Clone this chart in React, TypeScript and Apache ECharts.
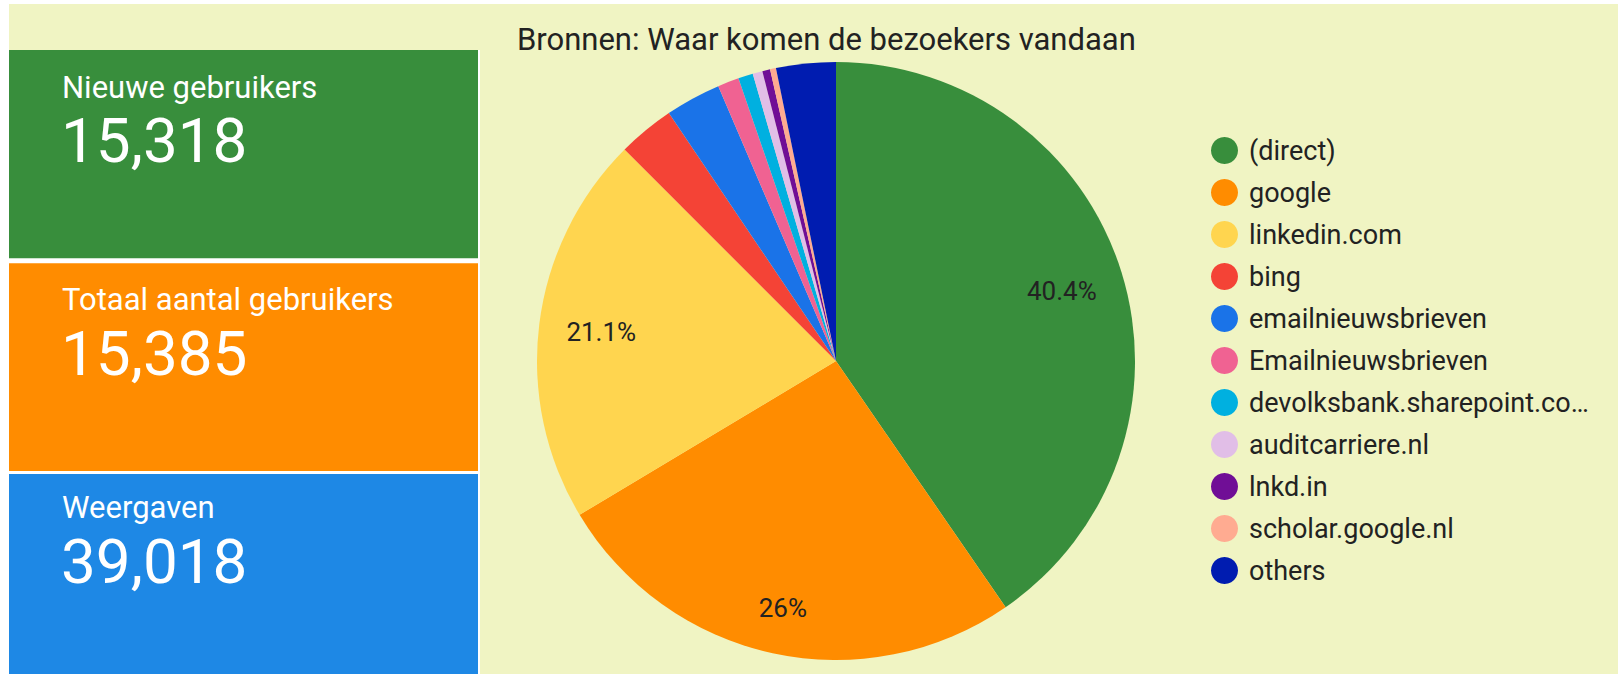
import React, { useEffect, useRef } from 'react';
import * as echarts from 'echarts';

const chartTitle = 'Bronnen: Waar komen de bezoekers vandaan';
const sources = [
  '(direct)',
  'google',
  'linkedin.com',
  'bing',
  'emailnieuwsbrieven',
  'Emailnieuwsbrieven',
  'devolksbank.sharepoint.co…',
  'auditcarriere.nl',
  'lnkd.in',
  'scholar.google.nl',
  'others',
];
const sharePct = [40.4, 26.0, 21.1, 3.06, 3.0, 1.15, 0.8, 0.53, 0.42, 0.32, 3.22];
const sliceColors = [
  '#388E3C', '#FF8C00', '#FFD54F', '#F44336', '#1A73E8', '#F06292',
  '#00B0E0', '#E1BEE7', '#700E96', '#FFAB91', '#001CB0',
];

const kpiLabels = ['Nieuwe gebruikers', 'Totaal aantal gebruikers', 'Weergaven'];
const kpiValues = [15318, 15385, 39018];
const kpiColors = ['#388E3C', '#FF8C00', '#1E88E5'];

const FONT = 'Roboto, "Noto Sans", sans-serif';

export default function App() {
  const ref = useRef<HTMLDivElement>(null);

  useEffect(() => {
    if (!ref.current) return;
    const chart = echarts.init(ref.current, undefined, { renderer: 'svg' });
    const total = sharePct.reduce((a, b) => a + b, 0);

    // card layout (top, bottom)
    const cardBoxes = [
      [50, 258.3],
      [263.3, 471],
      [474, 674],
    ];
    const labelBase = [98, 310, 517.7];
    const numBase = [162, 375, 583];

    const graphics: any[] = [
      { type: 'rect', shape: { x: 9, y: 4, width: 1609, height: 670 }, style: { fill: '#F0F4C3' }, z: -10 },
      { type: 'rect', shape: { x: 9, y: 50, width: 471, height: 624 }, style: { fill: '#ffffff' }, z: -9 },
    ];
    kpiLabels.forEach((lab, i) => {
      const [t, b] = cardBoxes[i];
      graphics.push({
        type: 'rect',
        shape: { x: 9, y: t, width: 469, height: b - t },
        style: { fill: kpiColors[i] },
        z: -8,
      });
      graphics.push({
        type: 'text',
        x: 62,
        y: labelBase[i] - 0.342 * 31,
        style: {
          text: lab,
          fill: '#ffffff',
          font: `400 31px ${FONT}`,
          textAlign: 'left',
          textVerticalAlign: 'middle',
        },
        z: -7,
      });
      graphics.push({
        type: 'text',
        x: 61,
        y: numBase[i] - 0.342 * 62,
        style: {
          text: kpiValues[i].toLocaleString('en-US'),
          fill: '#ffffff',
          font: `400 62px ${FONT}`,
          textAlign: 'left',
          textVerticalAlign: 'middle',
        },
        z: -7,
      });
    });

    const pieData = sources.map((name, i) => ({
      name,
      value: sharePct[i],
      itemStyle: { color: sliceColors[i] },
    }));

    chart.setOption({
      animation: false,
      backgroundColor: '#ffffff',
      title: {
        text: chartTitle,
        left: 517,
        top: 24,
        padding: 0,
        textStyle: {
          fontFamily: FONT,
          fontSize: 31,
          fontWeight: 'normal',
          color: '#222222',
          lineHeight: 31,
        },
      },
      legend: {
        orient: 'vertical',
        left: 1211,
        top: 137,
        padding: 0,
        itemWidth: 27,
        itemHeight: 27,
        itemGap: 15,
        icon: 'circle',
        data: sources,
        textStyle: {
          fontFamily: FONT,
          fontSize: 27,
          color: '#222222',
          lineHeight: 27,
          padding: [0, 0, 0, 6],
        },
      },
      graphic: graphics,
      series: [
        {
          type: 'pie',
          name: 'Bronnen',
          center: [836, 361],
          radius: [0, 299],
          startAngle: 90,
          clockwise: true,
          label: { show: false },
          labelLine: { show: false },
          itemStyle: { borderWidth: 0 },
          emphasis: { disabled: true },
          data: pieData,
        },
        {
          type: 'pie',
          name: 'labels',
          center: [836, 361],
          radius: [168, 299],
          startAngle: 90,
          clockwise: true,
          silent: true,
          itemStyle: { color: 'rgba(0,0,0,0)', borderWidth: 0 },
          emphasis: { disabled: true },
          labelLine: { show: false },
          labelLayout: (p: any) => (p.dataIndex === 1 ? { dx: -3, dy: 16 } : {}),
          label: {
            show: true,
            position: 'inside',
            fontFamily: FONT,
            fontSize: 26,
            color: '#222222',
            formatter: (p: any) => {
              const pct = (p.value / total) * 100;
              if (pct < 5) return '';
              return `${Math.round(pct * 10) / 10}%`;
            },
          },
          data: sources.map((name, i) => ({ name, value: sharePct[i] })),
        },
      ],
    });

    return () => chart.dispose();
  }, []);

  return (
    <div
      ref={ref}
      style={{ position: 'fixed', left: 0, top: 0, width: 1618, height: 674 }}
    />
  );
}
